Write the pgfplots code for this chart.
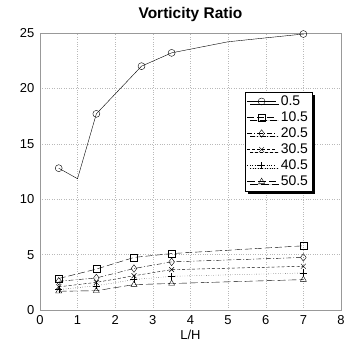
\documentclass[border=0pt]{standalone}
\usepackage{pgfplots}
\pgfplotsset{compat=1.18}
\usepackage{fontspec}
\setmainfont{Liberation Sans}
\usetikzlibrary{shadows}
\begin{document}
\begin{tikzpicture}
\begin{axis}[
  anchor=south west, at={(0pt,0pt)},
  scale only axis,
  width=302pt, height=278pt,
  xmin=0, xmax=8, ymin=0, ymax=25,
  xtick={0,1,...,8}, ytick={0,5,...,25},
  grid=major,
  major grid style={dotted, gray!55},
  axis line style={gray!80},
  tick style={draw=none},
  ticklabel style={font=\fontsize{13}{13}\selectfont},
  xticklabel style={yshift=-2pt},
  yticklabel style={xshift=-2pt},
  /pgf/number format/assume math mode=true,
  title={\bfseries Vorticity Ratio},
  title style={font=\fontsize{15.5}{15.5}\selectfont, yshift=2pt},
  xlabel={L/H},
  xlabel style={font=\fontsize{13}{13}\selectfont, yshift=2pt},
  legend cell align=left,
  legend style={at={(axis cs:5.45,19.7)}, anchor=north west,
    font=\fontsize{14}{16}\selectfont, draw=black, fill=white,
    drop shadow={shadow xshift=3pt, shadow yshift=-3pt, fill=black, opacity=1},
    inner sep=2pt, row sep=0.8pt},
  legend image code/.code={\draw[mark repeat=2,mark phase=2,#1] plot coordinates {(0.05cm,0cm) (0.55cm,0cm) (1.05cm,0cm)}; \path (1.15cm,0cm);},
]
\addplot[black, solid, mark=o, mark size=3.5pt, mark options={solid}, mark indices={1,3,4,5,7}, legend image post style={mark indices={2}}] coordinates {
(0.5,12.8) (1,11.85) (1.5,17.7) (2.7,22.0) (3.5,23.2) (5,24.2) (7,24.9)};
\addlegendentry{0.5}
\addplot[black, dash pattern=on 7pt off 3pt, mark=square, mark size=3.5pt, mark options={solid}] coordinates {
(0.5,2.85) (1.5,3.7) (2.5,4.75) (3.5,5.1) (7,5.8)};
\addlegendentry{10.5}
\addplot[black, dash pattern=on 5pt off 2pt on 1pt off 2pt, mark=diamond, mark size=3.8pt, mark options={solid}] coordinates {
(0.5,2.6) (1.5,2.9) (2.5,3.75) (3.5,4.35) (7,4.75)};
\addlegendentry{20.5}
\addplot[black, dash pattern=on 3pt off 2pt, mark=x, mark size=3.5pt, mark options={solid}] coordinates {
(0.5,2.1) (1.5,2.5) (2.5,3.1) (3.5,3.65) (7,3.95)};
\addlegendentry{30.5}
\addplot[black, dotted, mark=+, mark size=3.5pt, mark options={solid}] coordinates {
(0.5,1.85) (1.5,2.2) (2.5,2.75) (3.5,3.05) (7,3.35)};
\addlegendentry{40.5}
\addplot[black, dash pattern=on 8pt off 3pt, mark=triangle, mark size=3.5pt, mark options={solid}] coordinates {
(0.5,1.7) (1.5,1.75) (2.5,2.3) (3.5,2.4) (7,2.75)};
\addlegendentry{50.5}
\end{axis}
\pgfresetboundingbox
\useasboundingbox (-40pt,-36pt) rectangle (310pt,311pt);
\end{tikzpicture}
\end{document}
